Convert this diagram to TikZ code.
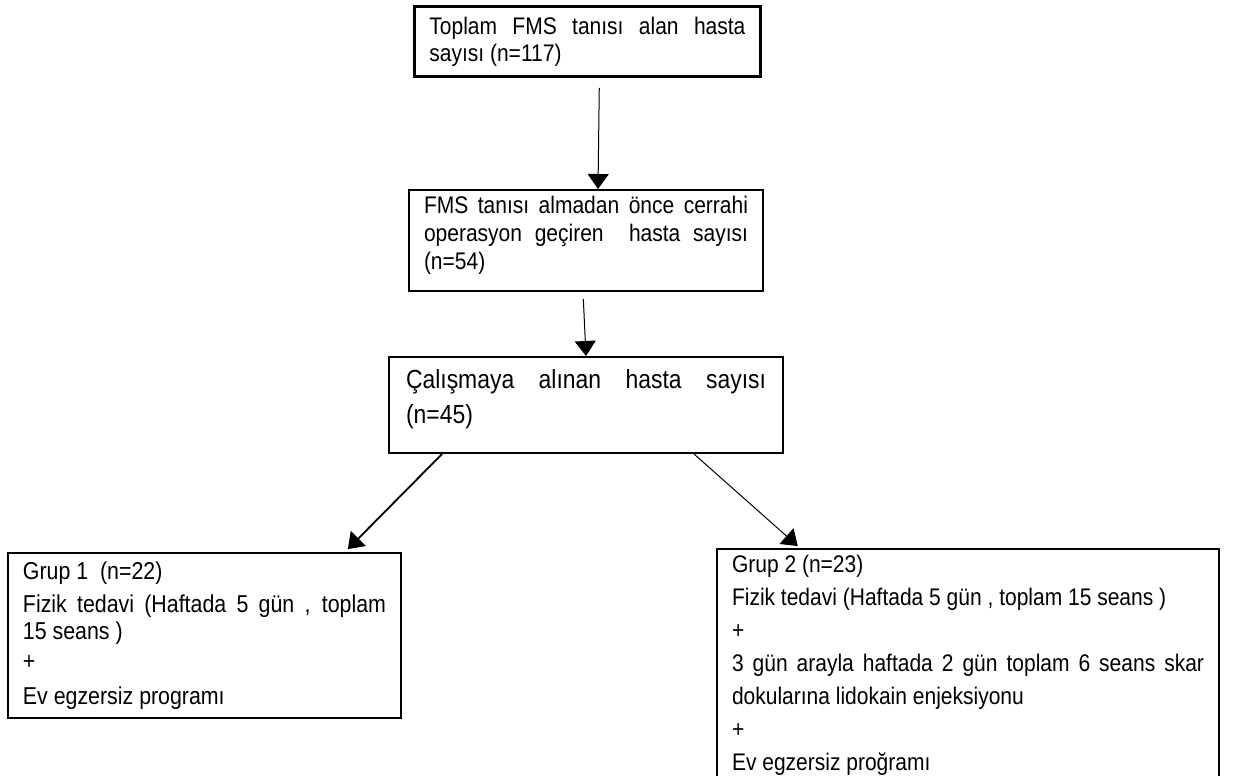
\documentclass[tikz,border=0pt]{standalone}
\usepackage{fontspec}
\setmainfont[FakeStretch=0.875]{Liberation Sans}
\usetikzlibrary{arrows.meta}
\hyphenpenalty=10000
\exhyphenpenalty=10000
\tolerance=9999
\hbadness=10000

\begin{document}
\begin{tikzpicture}
  [
    x=0.5pt, y=-0.5pt,
    box/.style={draw=black, line width=1pt, anchor=north west,
      align=justify, inner xsep=7.5pt, inner ysep=3pt,
      font=\fontsize{12}{13.5}\selectfont},
    arr/.style={draw=black, line width=0.5pt,
      -{Triangle[length=7.5pt,width=10.5pt]}}
  ]
  \useasboundingbox [fill=white] (0,0) rectangle (1237,776);

  \node (total) at (413,5) [box, text width=158pt, minimum height=35pt,
    line width=1.4pt] {Toplam FMS tanısı alan hasta sayısı (n=117)};
  \node (surgery) at (408,189) [box, text width=162pt, minimum height=50.5pt,
    font=\fontsize{12}{14}\selectfont]
    {FMS tanısı almadan önce cerrahi operasyon geçiren~ hasta sayısı
    (n=54)\\[-6.5pt]\mbox{}};
  \node (study) at (388,356) [box, text width=180pt, minimum width=197pt,
    minimum height=48pt, font=\fontsize{13.1}{17.5}\selectfont]
    {Çalışmaya alınan hasta sayısı (n=45)\\[-9pt]\mbox{}};

  \node (grp1) at (7,552) [box, text width=181.5pt, minimum height=82.5pt,
    font=\fontsize{12.2}{13.5}\selectfont]
    {Grup 1~ (n=22)\\[3pt]
    Fizik tedavi (Haftada 5 gün , toplam 15~seans )\\[1.5pt]
    +\\[4pt]
    Ev egzersiz programı};
  \node (grp2) at (716,548) [box, text width=236pt,
    font=\fontsize{12}{16.5}\selectfont]
    {Grup 2 (n=23)\\
    Fizik tedavi (Haftada 5 gün , toplam 15 seans )\\
    +\\
    3 gün arayla haftada 2 gün toplam 6 seans skar dokularına lidokain enjeksiyonu\\
    +\\
    Ev egzersiz proğramı};

  \draw [arr, shorten <=5pt] ([xshift=6pt]total.south) -- ([xshift=6pt]surgery.north);
  \draw [arr, shorten <=3.5pt] ([xshift=-1.5pt]surgery.south) -- (study.north);
  \draw [arr, line width=0.9pt, shorten >=2pt]
    ([xshift=27pt]study.south west) -- ([xshift=-28.5pt]grp1.north east);
  \draw [arr, shorten >=1.5pt]
    ([xshift=-45pt]study.south east) -- ([xshift=42pt]grp2.north west);
\end{tikzpicture}
\end{document}
